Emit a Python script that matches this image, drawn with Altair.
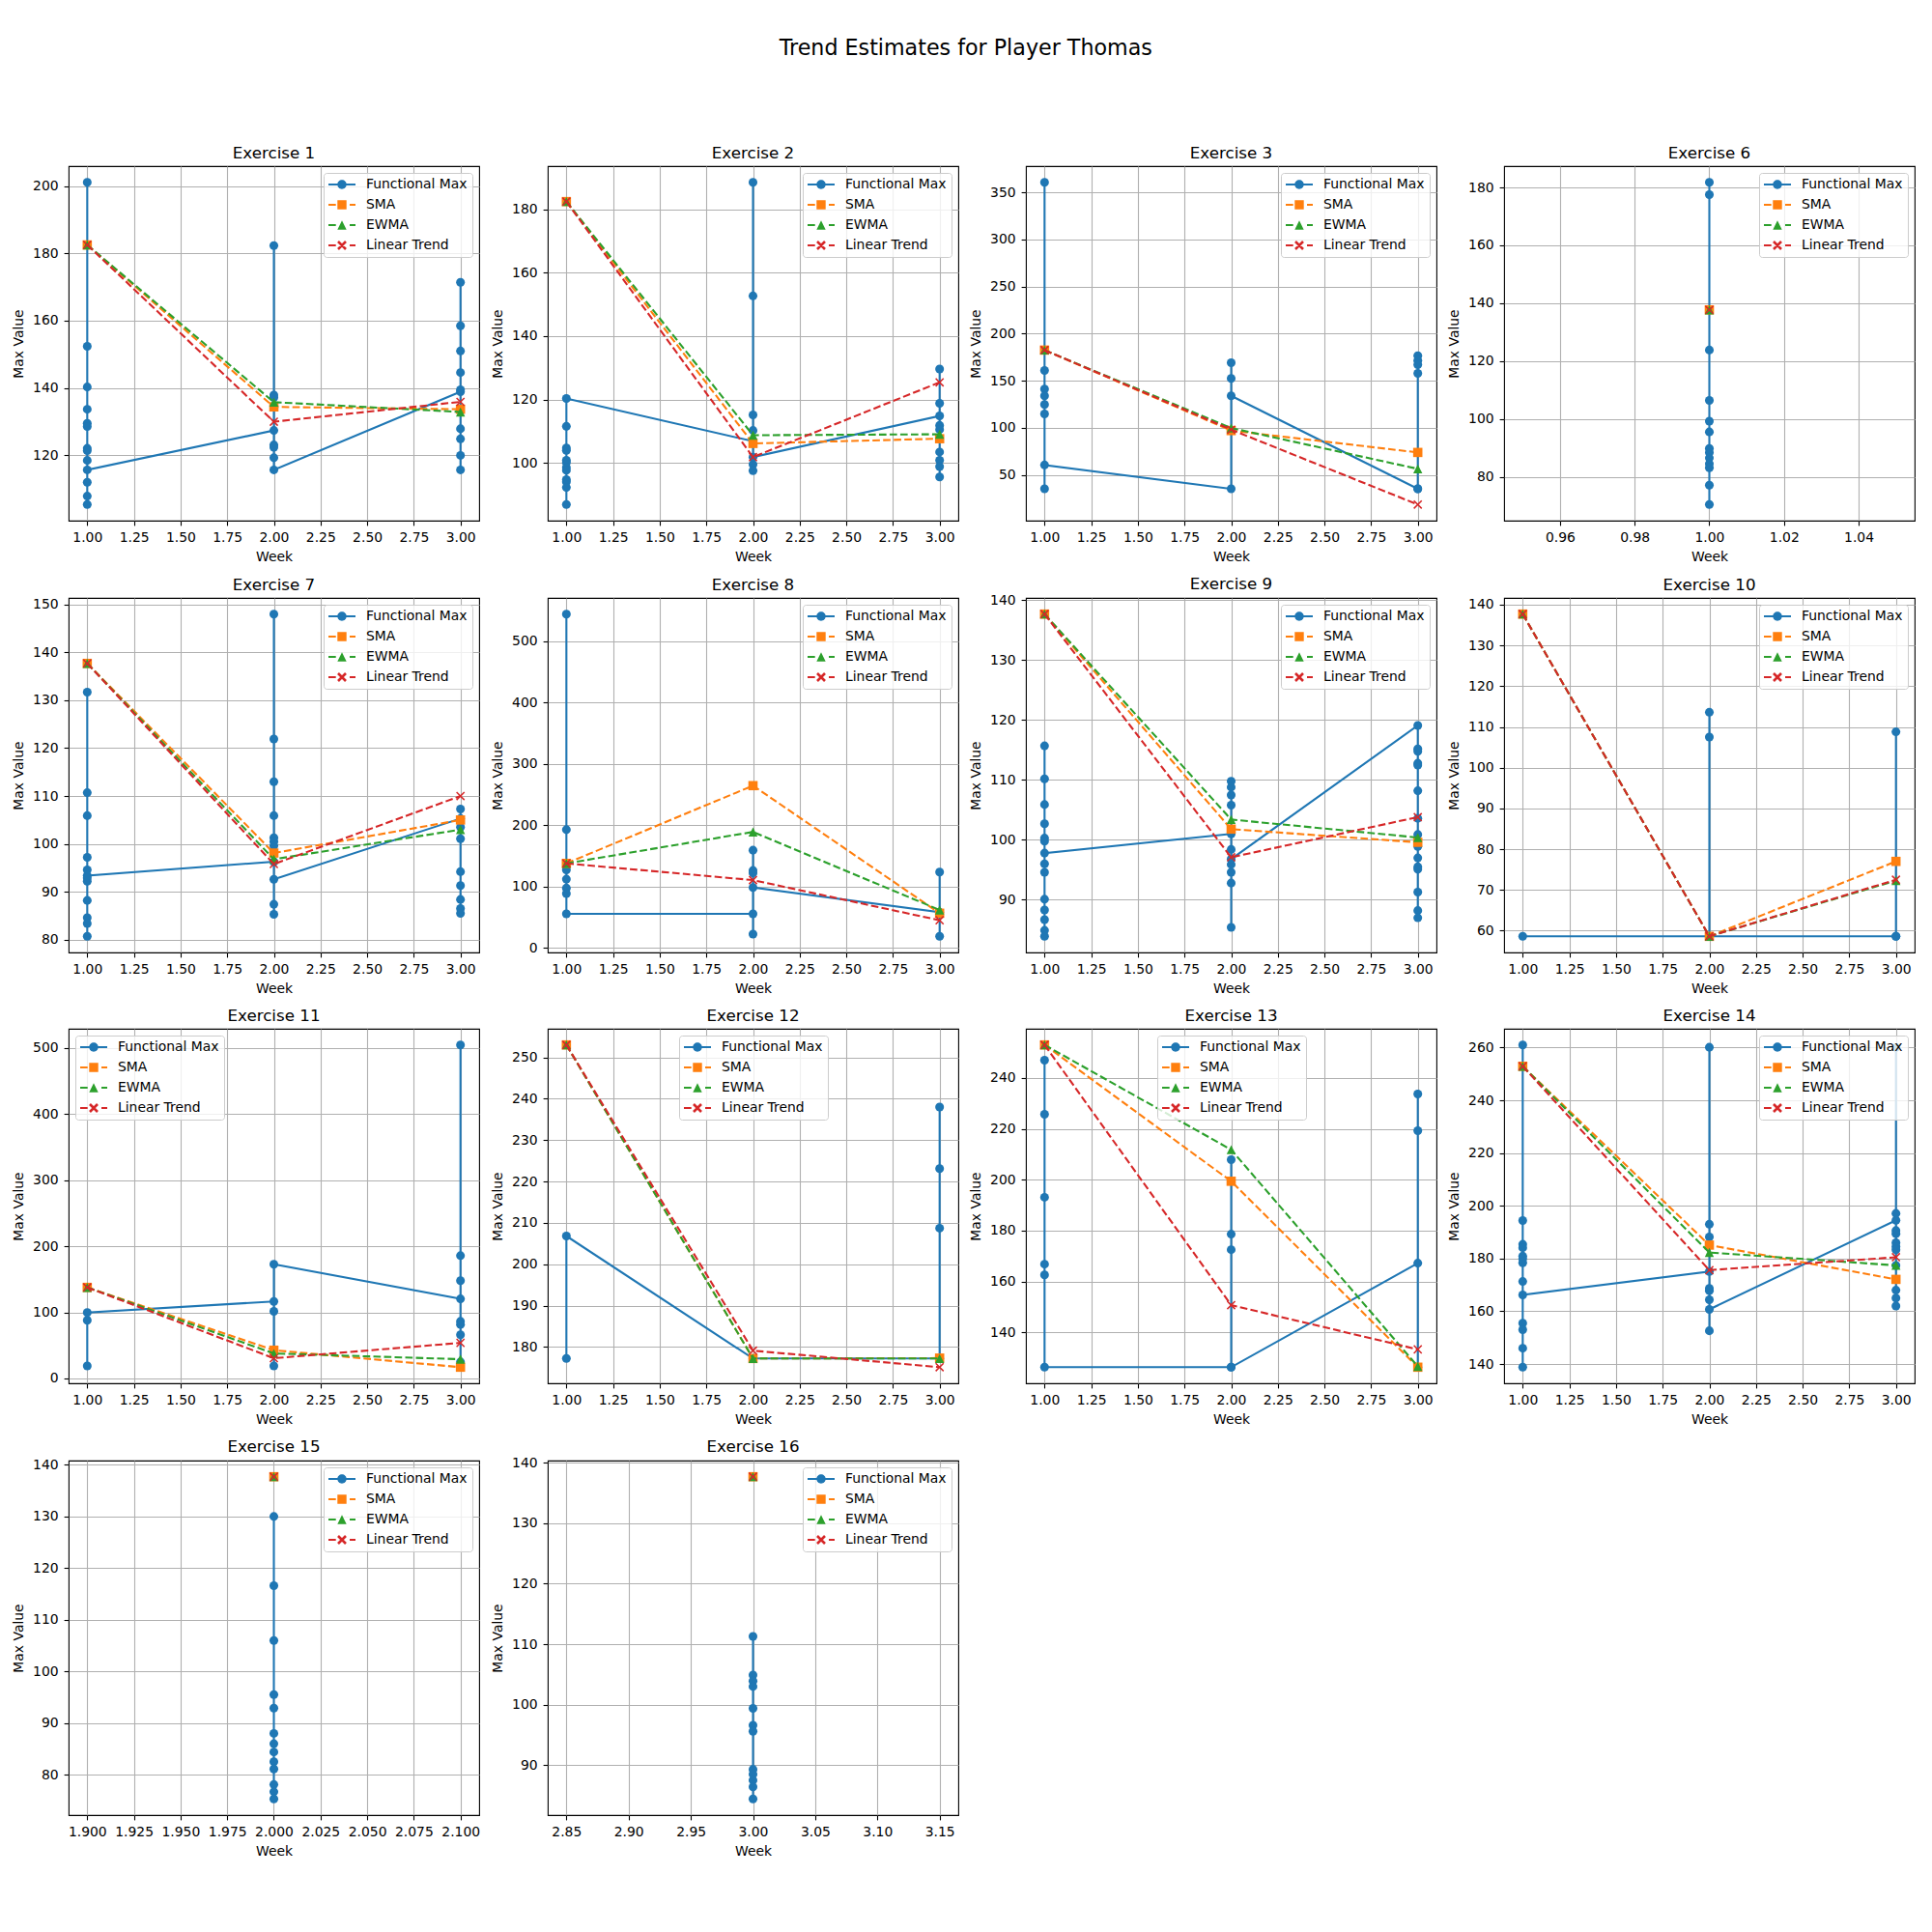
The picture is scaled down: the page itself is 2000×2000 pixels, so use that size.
import altair as alt
import pandas as pd

TITLE = "Trend Estimates for Player Thomas"
SERIES = ["Functional Max", "SMA", "EWMA", "Linear Trend"]
COLORS = ["#1f77b4", "#ff7f0e", "#2ca02c", "#d62728"]

WEEKS_123 = [1, 2, 3]
XTICKS_123 = [1.0, 1.25, 1.5, 1.75, 2.0, 2.25, 2.5, 2.75, 3.0]
XTICKS_W1 = [0.96, 0.98, 1.0, 1.02, 1.04]
XTICKS_W2 = [1.9, 1.925, 1.95, 1.975, 2.0, 2.025, 2.05, 2.075, 2.1]
XTICKS_W3 = [2.85, 2.9, 2.95, 3.0, 3.05, 3.1, 3.15]

# ---- Exercise 1
ex1_fm = [[201.1, 152.4, 140.3, 133.7, 129.5, 128.6, 122.1, 121.4, 118.5, 112.0, 107.9, 105.4, 115.7],
          [127.4, 182.3, 137.9, 137.2, 134.7, 123.1, 122.4, 119.3, 115.7],
          [138.9, 171.4, 158.5, 151.0, 144.6, 139.5, 127.9, 124.9, 120.0, 115.7]]
ex1_sma = [182.5, 134.4, 133.7]
ex1_ewma = [182.5, 135.8, 132.9]
ex1_trend = [182.5, 130.0, 135.9]
ex1_yticks = [120, 140, 160, 180, 200]

# ---- Exercise 2
ex2_fm = [[111.5, 104.7, 103.9, 100.8, 100.1, 98.5, 97.6, 94.7, 94.0, 92.2, 86.8, 120.3],
          [106.8, 188.6, 152.7, 115.1, 110.2, 99.5, 97.5, 101.8],
          [114.8, 129.6, 118.8, 111.8, 110.5, 103.4, 100.8, 98.8, 95.5]]
ex2_sma = [182.5, 106.1, 107.6]
ex2_ewma = [182.5, 108.7, 109.0]
ex2_trend = [182.5, 101.8, 125.4]
ex2_yticks = [100, 120, 140, 160, 180]

# ---- Exercise 3
ex3_fm = [[360.6, 160.9, 141.2, 134.0, 124.7, 114.8, 35.3, 60.6],
          [35.3, 169.1, 152.4, 134.0],
          [35.3, 176.6, 171.5, 167.1, 157.9, 35.3]]
ex3_sma = [182.5, 97.1, 73.9]
ex3_ewma = [182.5, 99.8, 56.5]
ex3_trend = [182.5, 98.1, 18.6]
ex3_yticks = [50, 100, 150, 200, 250, 300, 350]

# ---- Exercise 6 (week 1 only)
ex6_fm = [[181.8, 177.5, 123.8, 106.4, 99.2, 95.5, 89.8, 88.4, 86.5, 84.5, 83.1, 77.1, 70.4]]
ex6_sma = [137.7]
ex6_ewma = [137.7]
ex6_trend = [137.7]
ex6_yticks = [80, 100, 120, 140, 160, 180]

# ---- Exercise 7
ex7_fm = [[131.7, 110.7, 105.9, 97.2, 94.6, 92.9, 92.2, 88.2, 84.6, 83.4, 80.7, 93.4],
          [96.3, 148.0, 121.9, 113.0, 105.9, 101.3, 100.5, 99.6, 87.4, 85.3, 92.6],
          [105.3, 107.3, 103.5, 101.1, 94.2, 91.3, 88.4, 86.5, 85.5]]
ex7_sma = [137.7, 98.1, 105.0]
ex7_ewma = [137.7, 96.8, 103.0]
ex7_trend = [137.7, 95.8, 110.0]
ex7_yticks = [80, 90, 100, 110, 120, 130, 140, 150]

# ---- Exercise 8
ex8_fm = [[544.0, 192.7, 127.2, 112.0, 97.4, 88.5, 55.5],
          [55.5, 159.2, 126.2, 122.0, 22.5, 98.4],
          [58.1, 123.6, 18.8]]
ex8_sma = [137.7, 264.4, 56.5]
ex8_ewma = [137.7, 189.0, 61.8]
ex8_trend = [137.7, 110.5, 45.0]
ex8_yticks = [0, 100, 200, 300, 400, 500]

# ---- Exercise 9
ex9_fm = [[115.7, 110.2, 105.9, 102.7, 100.3, 99.8, 96.0, 94.6, 90.1, 88.3, 86.7, 84.9, 83.9, 97.8],
          [101.0, 109.8, 108.8, 107.5, 105.8, 98.4, 95.9, 94.6, 92.8, 85.4, 96.8],
          [119.1, 115.2, 114.8, 112.8, 112.5, 108.2, 103.6, 100.9, 98.9, 97.0, 95.5, 95.1, 91.3, 88.2, 87.0]]
ex9_sma = [137.7, 101.8, 99.6]
ex9_ewma = [137.7, 103.4, 100.4]
ex9_trend = [137.7, 97.1, 103.8]
ex9_yticks = [90, 100, 110, 120, 130, 140]

# ---- Exercise 10
ex10_fm = [[58.6],
           [58.6, 113.6, 107.5, 58.6],
           [58.6, 108.8, 58.6]]
ex10_sma = [137.7, 58.6, 77.0]
ex10_ewma = [137.7, 58.6, 72.3]
ex10_trend = [137.7, 58.6, 72.5]
ex10_yticks = [60, 70, 80, 90, 100, 110, 120, 130, 140]

# ---- Exercise 11
ex11_fm = [[18.9, 88.0, 99.6],
           [116.4, 101.4, 18.9, 172.7],
           [120.3, 504.4, 185.7, 147.9, 86.3, 81.5, 66.0, 25.0]]
ex11_sma = [137.7, 42.7, 17.0]
ex11_ewma = [137.7, 37.8, 29.1]
ex11_trend = [137.7, 30.6, 53.8]
ex11_yticks = [0, 100, 200, 300, 400, 500]

# ---- Exercise 12
ex12_fm = [[177.2, 206.8],
           [177.2],
           [177.2, 238.0, 223.1, 208.7]]
ex12_sma = [253.0, 177.2, 177.3]
ex12_ewma = [253.0, 177.2, 177.2]
ex12_trend = [253.0, 179.1, 175.1]
ex12_yticks = [180, 190, 200, 210, 220, 230, 240, 250]

# ---- Exercise 13
ex13_fm = [[247.0, 225.7, 193.1, 166.8, 162.6, 126.3],
           [126.3, 207.9, 178.6, 172.5, 126.3],
           [167.2, 233.7, 219.3, 126.3]]
ex13_sma = [253.0, 199.4, 126.3]
ex13_ewma = [253.0, 211.8, 126.6]
ex13_trend = [253.0, 150.7, 133.3]
ex13_yticks = [140, 160, 180, 200, 220, 240]

# ---- Exercise 14
ex14_fm = [[261.0, 194.4, 185.4, 184.1, 180.9, 179.9, 178.4, 171.3, 155.5, 153.0, 146.0, 138.8, 166.2],
           [175.1, 260.1, 193.0, 188.2, 168.7, 167.8, 164.4, 152.6, 160.7],
           [194.5, 260.0, 197.1, 190.6, 189.4, 186.0, 184.5, 183.3, 177.4, 168.0, 165.0, 162.0]]
ex14_sma = [252.9, 185.1, 172.1]
ex14_ewma = [252.9, 182.3, 177.4]
ex14_trend = [252.9, 175.6, 180.5]
ex14_yticks = [140, 160, 180, 200, 220, 240, 260]

# ---- Exercise 15 (week 2 only)
ex15_fm = [[130.0, 116.6, 106.0, 95.5, 92.9, 88.0, 86.0, 84.4, 82.5, 81.1, 78.1, 76.7, 75.3]]
ex15_sma = [137.7]
ex15_ewma = [137.7]
ex15_trend = [137.7]
ex15_yticks = [80, 90, 100, 110, 120, 130, 140]

# ---- Exercise 16 (week 3 only)
ex16_fm = [[111.3, 104.9, 103.9, 103.0, 99.4, 96.6, 95.6, 89.3, 88.5, 87.5, 86.4, 84.4]]
ex16_sma = [137.7]
ex16_ewma = [137.7]
ex16_trend = [137.7]
ex16_yticks = [90, 100, 110, 120, 130, 140]

PANELS = [
    ("Exercise 1", WEEKS_123, ex1_fm, ex1_sma, ex1_ewma, ex1_trend, XTICKS_123, ".2f", ex1_yticks, "top-right"),
    ("Exercise 2", WEEKS_123, ex2_fm, ex2_sma, ex2_ewma, ex2_trend, XTICKS_123, ".2f", ex2_yticks, "top-right"),
    ("Exercise 3", WEEKS_123, ex3_fm, ex3_sma, ex3_ewma, ex3_trend, XTICKS_123, ".2f", ex3_yticks, "top-right"),
    ("Exercise 6", [1], ex6_fm, ex6_sma, ex6_ewma, ex6_trend, XTICKS_W1, ".2f", ex6_yticks, "top-right"),
    ("Exercise 7", WEEKS_123, ex7_fm, ex7_sma, ex7_ewma, ex7_trend, XTICKS_123, ".2f", ex7_yticks, "top-right"),
    ("Exercise 8", WEEKS_123, ex8_fm, ex8_sma, ex8_ewma, ex8_trend, XTICKS_123, ".2f", ex8_yticks, "top-right"),
    ("Exercise 9", WEEKS_123, ex9_fm, ex9_sma, ex9_ewma, ex9_trend, XTICKS_123, ".2f", ex9_yticks, "top-right"),
    ("Exercise 10", WEEKS_123, ex10_fm, ex10_sma, ex10_ewma, ex10_trend, XTICKS_123, ".2f", ex10_yticks, "top-right"),
    ("Exercise 11", WEEKS_123, ex11_fm, ex11_sma, ex11_ewma, ex11_trend, XTICKS_123, ".2f", ex11_yticks, "top-left"),
    ("Exercise 12", WEEKS_123, ex12_fm, ex12_sma, ex12_ewma, ex12_trend, XTICKS_123, ".2f", ex12_yticks, "center"),
    ("Exercise 13", WEEKS_123, ex13_fm, ex13_sma, ex13_ewma, ex13_trend, XTICKS_123, ".2f", ex13_yticks, "center"),
    ("Exercise 14", WEEKS_123, ex14_fm, ex14_sma, ex14_ewma, ex14_trend, XTICKS_123, ".2f", ex14_yticks, "top-right"),
    ("Exercise 15", [2], ex15_fm, ex15_sma, ex15_ewma, ex15_trend, XTICKS_W2, ".3f", ex15_yticks, "top-right"),
    ("Exercise 16", [3], ex16_fm, ex16_sma, ex16_ewma, ex16_trend, XTICKS_W3, ".2f", ex16_yticks, "top-right"),
]

# ---------------- styling ----------------
PW, PH = 425, 367
LW = 2.08
DASH = [7.7, 3.3]
FONT = "DejaVu Sans"
LABEL_HALF = 6.3

# legend handle glyphs (line + marker), built in pixel units then normalised
K = 7.0  # sqrt(symbolSize)/2


def _f(v):
    return f"{v / K:.4f}"


def _rect(x0, x1, hw):
    return f"M{_f(x0)},{_f(-hw)}H{_f(x1)}V{_f(hw)}H{_f(x0)}Z"


def _circle(r):
    return f"M{_f(-r)},0A{_f(r)},{_f(r)} 0 1 1 {_f(r)},0A{_f(r)},{_f(r)} 0 1 1 {_f(-r)},0Z"


def _square(s):
    return f"M{_f(-s)},{_f(-s)}H{_f(s)}V{_f(s)}H{_f(-s)}Z"


def _tri(s):
    return f"M0,{_f(-s)}L{_f(s)},{_f(s)}L{_f(-s)},{_f(s)}Z"


def _x(a, w):
    d = w / 2 ** 0.5
    p = [(-a + d, -a - d), (a + d, a - d), (a - d, a + d), (-a - d, -a + d)]
    q = [(-a + d, a + d), (-a - d, a - d), (a - d, -a - d), (a + d, -a + d)]
    s = ""
    for poly in (p, q):
        s += "M" + "L".join(f"{_f(x)},{_f(y)}" for x, y in poly) + "Z"
    return s


HL = 14.0
T = LW / 2
M = 4.7
solid = _rect(-HL, -M + 0.6, T) + _rect(M - 0.6, HL, T)
dashed = _rect(-HL, -6.3, T) + _rect(8.0, HL, T)
LEGEND_PATHS = [solid + _circle(M), dashed + _square(M), dashed + _tri(M), dashed + _x(4.0, 1.3)]

TRI_PATH = "M0,-1L1,1L-1,1Z"
X_PATH = "M-1,-1L1,1M-1,1L1,-1"


def legend_for(pos):
    kw = dict(title=None, offset=7, padding=5, fillColor="rgba(255,255,255,0.8)",
              strokeColor="#cccccc", cornerRadius=3, symbolSize=196, symbolStrokeWidth=0,
              symbolOffset=7, labelOffset=18, rowPadding=7, labelFontSize=13.9,
              labelFont=FONT, labelColor="black", labelLimit=300)
    if pos == "center":
        kw.update(orient="none", legendX=136, legendY=7)
    else:
        kw["orient"] = pos
    return alt.Legend(**kw)


def panel(title, weeks, fm, sma, ewma, trend, xticks, xfmt, yticks, legpos):
    rows = []
    seq = 0
    for w, vals in zip(weeks, fm):
        for v in vals:
            rows.append({"week": w, "value": v, "seq": seq, "series": "Functional Max"})
            seq += 1
    fm_df = pd.DataFrame(rows)
    trows = []
    for name, vals in (("SMA", sma), ("EWMA", ewma), ("Linear Trend", trend)):
        for w, v in zip(weeks, vals):
            trows.append({"week": w, "value": v, "series": name})
    tr_df = pd.DataFrame(trows)

    allv = list(fm_df["value"]) + list(tr_df["value"])
    lo, hi = min(allv), max(allv)
    pad = 0.05 * (hi - lo)
    ydom = [lo - pad, hi + pad]
    wlo, whi = min(weeks), max(weeks)
    if wlo == whi:
        wlo, whi = wlo - 0.05 * abs(wlo), whi + 0.05 * abs(whi)
    xpad = 0.05 * (whi - wlo)
    xdom = [wlo - xpad, whi + xpad]

    # keep the panel title at the same height even if the top tick label overhangs
    top_gap = (ydom[1] - max(yticks)) / (ydom[1] - ydom[0]) * PH
    title_dy = max(0.0, LABEL_HALF - top_gap)

    x = alt.X("week:Q", scale=alt.Scale(domain=xdom, nice=False, zero=False),
              axis=alt.Axis(values=xticks, format=xfmt, title="Week", labelFlush=False, labelOverlap=False))
    y = alt.Y("value:Q", scale=alt.Scale(domain=ydom, nice=False, zero=False),
              axis=alt.Axis(values=yticks, format="d", title="Max Value", labelFlush=False, labelOverlap=False))

    layers = [
        alt.Chart(fm_df).mark_line(color=COLORS[0], strokeWidth=LW).encode(x=x, y=y, order="seq:Q"),
        alt.Chart(fm_df).mark_point(filled=True, shape="circle", size=82, opacity=1, color=COLORS[0]).encode(x=x, y=y),
    ]
    shapes = {"SMA": ("square", True, 92), "EWMA": (TRI_PATH, True, 88), "Linear Trend": (X_PATH, False, 66)}
    for i, name in enumerate(["SMA", "EWMA", "Linear Trend"], start=1):
        sub = alt.Chart(tr_df).transform_filter(alt.datum.series == name)
        layers.append(sub.mark_line(color=COLORS[i], strokeWidth=LW, strokeDash=DASH).encode(x=x, y=y, order="week:Q"))
        shp, filled, size = shapes[name]
        if filled:
            pm = sub.mark_point(filled=True, shape=shp, size=size, opacity=1, color=COLORS[i])
        else:
            pm = sub.mark_point(filled=False, shape=shp, size=size, opacity=1, color=COLORS[i], strokeWidth=1.5)
        layers.append(pm.encode(x=x, y=y))

    leg = legend_for(legpos)
    legend_layer = alt.Chart(fm_df).transform_filter("false").mark_point(filled=True, opacity=1).encode(
        color=alt.Color("series:N", scale=alt.Scale(domain=SERIES, range=COLORS), legend=leg),
        shape=alt.Shape("series:N", scale=alt.Scale(domain=SERIES, range=LEGEND_PATHS), legend=leg),
    )
    layers.append(legend_layer)
    return alt.layer(*layers).properties(
        width=PW, height=PH,
        title=alt.Title(title, fontSize=16.7, fontWeight="normal", color="black", font=FONT,
                        offset=4.5, frame="group", dy=title_dy),
    )


charts = [panel(*p) for p in PANELS]

chart = alt.concat(*charts, columns=4, spacing={"row": 12, "column": 10}).resolve_scale(
    x="independent", y="independent", color="independent", shape="independent"
).resolve_legend(color="independent", shape="independent").properties(
    title=alt.Title(TITLE, fontSize=22.2, fontWeight="normal", color="black", font=FONT,
                    anchor="middle", offset=89, dx=2.5),
    padding={"left": 12, "top": 39, "right": 5, "bottom": 5},
    background="white",
).configure(font=FONT).configure_view(stroke="black", strokeWidth=1.1).configure_axis(
    domain=False, grid=True, gridColor="#b0b0b0", gridWidth=1.1,
    tickColor="black", tickSize=4.9, tickWidth=1.1,
    labelFont=FONT, labelFontSize=13.9, labelColor="black", labelPadding=6,
    titleFont=FONT, titleFontSize=13.9, titleFontWeight="normal", titleColor="black",
).configure_axisX(titlePadding=5.5).configure_axisY(titlePadding=7)

chart.save("out.html", embed_options={"renderer": "svg", "actions": False})
